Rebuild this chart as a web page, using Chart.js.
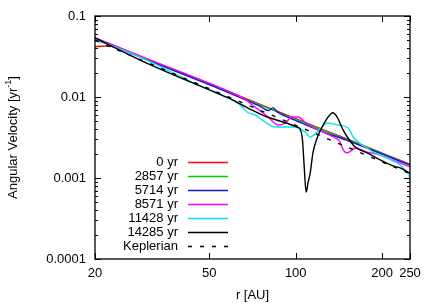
<!DOCTYPE html>
<html><head><meta charset="utf-8">
<script src="https://cdn.jsdelivr.net/npm/chart.js@4.4.0/dist/chart.umd.min.js"></script>
<style>html,body{margin:0;padding:0;background:#fff;overflow:hidden;}</style>
</head><body>
<canvas id="c" width="436" height="305"></canvas>
<script>
// ---- data ----
const seriesLabels = ['0 yr', '2857 yr', '5714 yr', '8571 yr', '11428 yr', '14285 yr', 'Keplerian'];

const rRed = [20, 21, 22, 23, 24, 25, 30, 50, 100, 150, 200, 250];
const vRed = [0.0418, 0.0423, 0.0425, 0.0420, 0.0405, 0.0385, 0.0298, 0.0146, 0.0054, 0.00305, 0.00203, 0.00148];

const rGreen = [20, 22, 25, 30, 50, 100, 150, 200, 250];
const vGreen = [0.050, 0.0455, 0.0385, 0.0293, 0.0143, 0.0053, 0.0030, 0.00200, 0.00146];

const rBlue = [20, 30, 50, 65, 75, 80.5, 83.4, 86.5, 92, 100, 120, 150, 200, 250];
const vBlue = [0.053, 0.0293, 0.0142, 0.0096, 0.0077, 0.0068, 0.0074, 0.0065, 0.0058, 0.0051, 0.0039, 0.00293, 0.00197, 0.00144];

const rMagenta = [20, 30, 50, 65, 68, 72.2, 80, 86.8, 91.8, 97.2, 101.9, 107.8, 114.1, 124, 137.2, 142.8, 146.3, 151, 157.2, 161.1, 177.3, 196.8, 208, 250];
const vMagenta = [0.054, 0.0302, 0.0148, 0.0098, 0.0089, 0.0075, 0.0057, 0.00451, 0.00477, 0.00566, 0.00566, 0.00491, 0.00426, 0.0037, 0.00312, 0.00278, 0.00222, 0.00204, 0.00222, 0.00235, 0.00209, 0.00192, 0.00177, 0.00137];

const rCyan = [20, 30, 46.4, 55, 64, 67.7, 72.2, 78.2, 84.8, 99.5, 107.8, 112.3, 118.7, 123.6, 128.6, 140.5, 152.2, 158.5, 170.4, 177.3, 186.1, 208, 231, 244.4, 248, 250];
const vCyan = [0.052, 0.0290, 0.0137, 0.0106, 0.0080, 0.00653, 0.0060, 0.00491, 0.00426, 0.00426, 0.0037, 0.00321, 0.0037, 0.00426, 0.00477, 0.00451, 0.00414, 0.00321, 0.00255, 0.00235, 0.00209, 0.00177, 0.00145, 0.00118, 0.00112, 0.00087];

const rBlack = [20, 28.7, 46.4, 53.2, 60.5, 69.3, 79.5, 90.4, 101, 103.6, 105.5, 107, 108.7, 110.5, 112.3, 114.8, 118.7, 123.6, 129.7, 134.5, 139.4, 146.3, 154.7, 161.1, 177.3, 196.8, 218.4, 231, 250];
const vBlack = [0.0535, 0.0286, 0.01368, 0.0112, 0.00918, 0.0071, 0.00566, 0.00491, 0.00426, 0.0040, 0.0030, 0.00141, 0.00067, 0.00089, 0.00115, 0.00204, 0.00312, 0.00426, 0.00566, 0.0064, 0.00566, 0.0039, 0.00286, 0.00241, 0.00204, 0.00167, 0.00141, 0.00133, 0.00115];

const rKepler = [20, 50, 100, 250];
const vKepler = [0.050, 0.01265, 0.00447, 0.00113];

const xTickVals = [20, 50, 100, 200, 250];
const xTickLabels = ['20', '50', '100', '200', '250'];
const yTickVals = [0.0001, 0.001, 0.01, 0.1];
const yTickLabels = ['0.0001', '0.001', '0.01', '0.1'];
const xTitle = 'r [AU]';
const yTitleMain = 'Angular Velocity [yr';
const yTitleSup = '-1';
const yTitleEnd = ']';

// ---- styling ----
const FONT = '"Liberation Sans", Arial, Helvetica, sans-serif';
Chart.defaults.font.family = FONT;
Chart.defaults.font.size = 13;
Chart.defaults.color = '#000';

const colors = ['#ff0000', '#00cc00', '#1414e6', '#ff00ff', '#00e8e8', '#000000', '#000000'];
const rs = [rRed, rGreen, rBlue, rMagenta, rCyan, rBlack, rKepler];
const vs = [vRed, vGreen, vBlue, vMagenta, vCyan, vBlack, vKepler];

const datasets = rs.map((r, k) => ({
  label: seriesLabels[k],
  data: r.map((x, i) => ({x: x, y: vs[k][i]})),
  borderColor: colors[k],
  backgroundColor: colors[k],
  borderWidth: 1.4,
  borderDash: k === 6 ? [4, 8] : [],
  pointRadius: 0,
  fill: false,
  cubicInterpolationMode: 'monotone',
  order: 6 - k
}));

const decor = {
  id: 'decor',
  afterDraw(chart) {
    const ctx = chart.ctx, a = chart.chartArea, xs = chart.scales.x, ys = chart.scales.y;
    ctx.save();
    ctx.strokeStyle = '#000';
    ctx.lineWidth = 1;
    ctx.setLineDash([]);
    ctx.beginPath();
    xTickVals.forEach(v => {
      const px = Math.round(xs.getPixelForValue(v)) + 0.5;
      ctx.moveTo(px, a.bottom); ctx.lineTo(px, a.bottom - 6);
      ctx.moveTo(px, a.top); ctx.lineTo(px, a.top + 6);
    });
    yTickVals.forEach(v => {
      const py = Math.round(ys.getPixelForValue(v)) + 0.5;
      ctx.moveTo(a.left, py); ctx.lineTo(a.left + 6, py);
      ctx.moveTo(a.right, py); ctx.lineTo(a.right - 6, py);
    });
    for (let d = 0; d < yTickVals.length - 1; d++) {
      for (let m = 2; m <= 9; m++) {
        const py = Math.round(ys.getPixelForValue(yTickVals[d] * m)) + 0.5;
        ctx.moveTo(a.left, py); ctx.lineTo(a.left + 3, py);
        ctx.moveTo(a.right, py); ctx.lineTo(a.right - 3, py);
      }
    }
    ctx.stroke();
    ctx.lineWidth = 1.3;
    ctx.strokeRect(a.left, a.top, a.right - a.left, a.bottom - a.top);

    // legend (gnuplot style)
    ctx.font = '13px ' + FONT;
    ctx.fillStyle = '#000';
    ctx.textAlign = 'right';
    ctx.textBaseline = 'middle';
    chart.data.datasets.forEach((ds, i) => {
      const y = 162 + i * 14;
      ctx.fillText(ds.label, 178, y);
      ctx.strokeStyle = ds.borderColor;
      ctx.lineWidth = 1.4;
      ctx.setLineDash(ds.borderDash || []);
      ctx.beginPath();
      ctx.moveTo(188, y + 0.5); ctx.lineTo(228, y + 0.5);
      ctx.stroke();
    });
    ctx.setLineDash([]);

    // axis titles
    ctx.fillStyle = '#000';
    ctx.textAlign = 'center';
    ctx.textBaseline = 'middle';
    ctx.font = '13px ' + FONT;
    ctx.fillText(xTitle, (a.left + a.right) / 2, 295);

    ctx.translate(13, (a.top + a.bottom) / 2);
    ctx.rotate(-Math.PI / 2);
    ctx.textAlign = 'left';
    ctx.font = '13px ' + FONT;
    const w1 = ctx.measureText(yTitleMain).width;
    const w3 = ctx.measureText(yTitleEnd).width;
    ctx.font = '9px ' + FONT;
    const w2 = ctx.measureText(yTitleSup).width;
    const x0 = -(w1 + w2 + w3) / 2;
    ctx.font = '13px ' + FONT;
    ctx.fillText(yTitleMain, x0, 0);
    ctx.font = '9px ' + FONT;
    ctx.fillText(yTitleSup, x0 + w1, -4);
    ctx.font = '13px ' + FONT;
    ctx.fillText(yTitleEnd, x0 + w1 + w2, 0);
    ctx.restore();
  }
};

new Chart(document.getElementById('c'), {
  type: 'line',
  data: {datasets: datasets},
  options: {
    responsive: false,
    animation: false,
    devicePixelRatio: 1,
    layout: {padding: {left: 0, right: 26, top: 16, bottom: 0}},
    plugins: {legend: {display: false}, tooltip: {enabled: false}},
    scales: {
      x: {
        type: 'logarithmic', min: 20, max: 250,
        grid: {display: false, drawTicks: false, tickLength: 0}, border: {display: false},
        afterBuildTicks: s => { s.ticks = xTickVals.map(v => ({value: v})); },
        afterFit: s => { s.height = 46; s.paddingLeft = 0; s.paddingRight = 0; },
        ticks: {
          autoSkip: false, maxRotation: 0, padding: 7,
          callback: v => xTickLabels[xTickVals.indexOf(v)]
        }
      },
      y: {
        type: 'logarithmic', min: 0.0001, max: 0.1,
        grid: {display: false, drawTicks: false, tickLength: 0}, border: {display: false},
        afterBuildTicks: s => { s.ticks = yTickVals.map(v => ({value: v})); },
        afterFit: s => { s.width = 95; s.paddingTop = 0; s.paddingBottom = 0; },
        ticks: {
          autoSkip: false, padding: 9,
          callback: v => yTickLabels[yTickVals.indexOf(v)]
        }
      }
    }
  },
  plugins: [decor]
});
</script>
</body></html>
